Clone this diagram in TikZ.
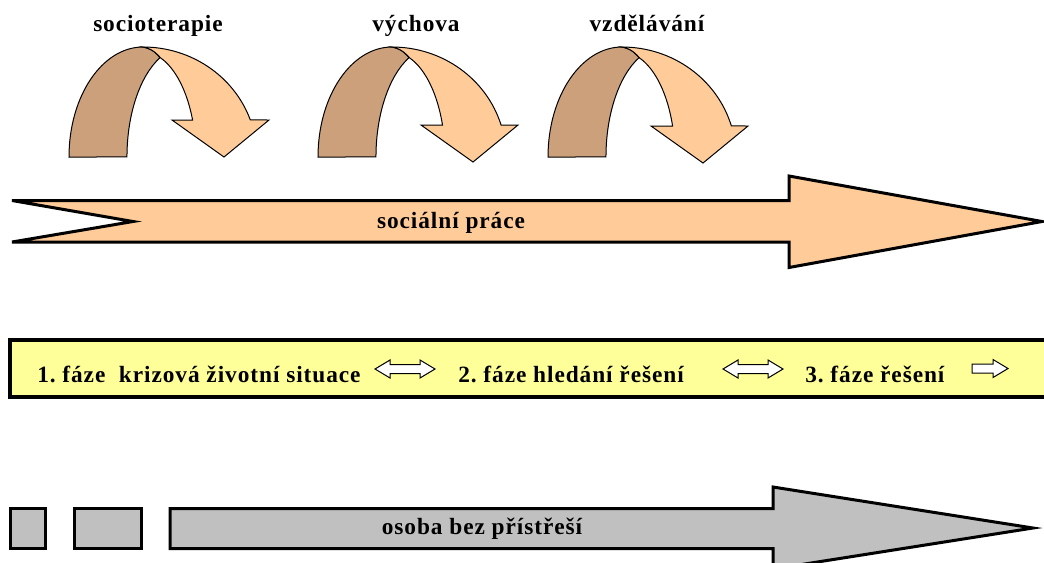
\documentclass[tikz,border=0pt]{standalone}
\usepackage{fontspec}
\setmainfont{Liberation Serif}
\newfontfamily\lblfont{Liberation Serif}[LetterSpace=4]
\definecolor{lightor}{HTML}{FFCC99}
\definecolor{brownside}{HTML}{CCA07A}
\definecolor{bandyellow}{HTML}{FFFF99}
\definecolor{shapegray}{HTML}{C0C0C0}
\tikzset{
  txt/.style={font=\lblfont\bfseries\fontsize{17.5}{20}\selectfont, inner sep=0pt, text=black},
  thickline/.style={draw=black, line width=2.25pt, line join=miter},
  bandline/.style={draw=black, line width=3pt, line join=miter},
  thinline/.style={draw=black, line width=0.75pt, line join=miter},
}
\frenchspacing
\begin{document}
\begin{tikzpicture}[x=0.75pt,y=-0.75pt]
\useasboundingbox (0,0) rectangle (1044,562);
\clip (0,0) rectangle (1044,562);

% curved arrows
\foreach \ox/\d/\ao/\ai/\xi in {69/0/340.3/339.4/123.6, 318/5/343.1/342.3/124.5, 548/6/343.6/342.8/124.6} {
  \begin{scope}[shift={(\ox,157)}]
    \filldraw[fill=brownside, thinline] (0,0)
      arc[start angle=180, end angle=270, x radius=74, y radius=110]
      .. controls (84,-108) and (88,-103) .. (91,-99.3)
      arc[start angle=244.5, end angle=180, x radius=58, y radius=110] -- cycle;
    \filldraw[fill=lightor, thinline] (74,-110)
      arc[start angle=270, end angle=\ao, x radius=114, y radius=110]
      -- (200,-37+\d) -- (155,\d) -- (103,-37+\d) -- (\xi,-37+\d)
      arc[start angle=\ai, end angle=289.5, x radius=53, y radius=105]
      .. controls (88,-103) and (84,-108) .. (74,-110) -- cycle;
  \end{scope}
}
\node[txt, anchor=base] (lsocio) at (158,31) {socioterapie};
\node[txt, anchor=base] (lvych) at (416,31) {výchova};
\node[txt, anchor=base] (lvzd) at (647,31) {vzdělávání};

% big orange arrow
\filldraw[fill=lightor, thickline] (12,200.5) -- (789,200.5) -- (789,176) -- (1042,221.5)
  -- (789,267.5) -- (789,242) -- (12,242) -- (133,221.5) -- cycle;
\node[txt, anchor=base] (socprace) at (451,228) {sociální práce};

% yellow band
\filldraw[fill=bandyellow, bandline] (10,340) rectangle (1060,397);
\node[txt, anchor=base west] (f1) at (37,382) {1. fáze\ \ krizová životní situace};
\node[txt, anchor=base west] (f2) at (458,382) {2. fáze hledání řešení};
\node[txt, anchor=base west] (f3) at (805,382) {3. fáze řešení};

% small white arrows
\foreach \ax in {375,723} {
  \begin{scope}[shift={(\ax,369)}]
    \filldraw[fill=white, thinline] (0,0) -- (15,-9) -- (15,-4.5) -- (45,-4.5) -- (45,-9)
      -- (60,0) -- (45,9) -- (45,4.5) -- (15,4.5) -- (15,9) -- cycle;
  \end{scope}
}
\filldraw[fill=white, thinline] (972,364) -- (993,364) -- (993,359.5) -- (1008,368.5)
  -- (993,377.5) -- (993,373) -- (972,373) -- cycle;

% gray shapes
\filldraw[fill=shapegray, thickline] (10,508.5) rectangle (45,548.5);
\filldraw[fill=shapegray, thickline] (74,508.5) rectangle (141,548.5);
\filldraw[fill=shapegray, thickline] (170,508.5) -- (773,508.5) -- (773,487) -- (1033,528)
  -- (773,569) -- (773,548.5) -- (170,548.5) -- cycle;
\node[txt, anchor=base] (osoba) at (482,534) {osoba bez přístřeší};
\end{tikzpicture}
\end{document}
